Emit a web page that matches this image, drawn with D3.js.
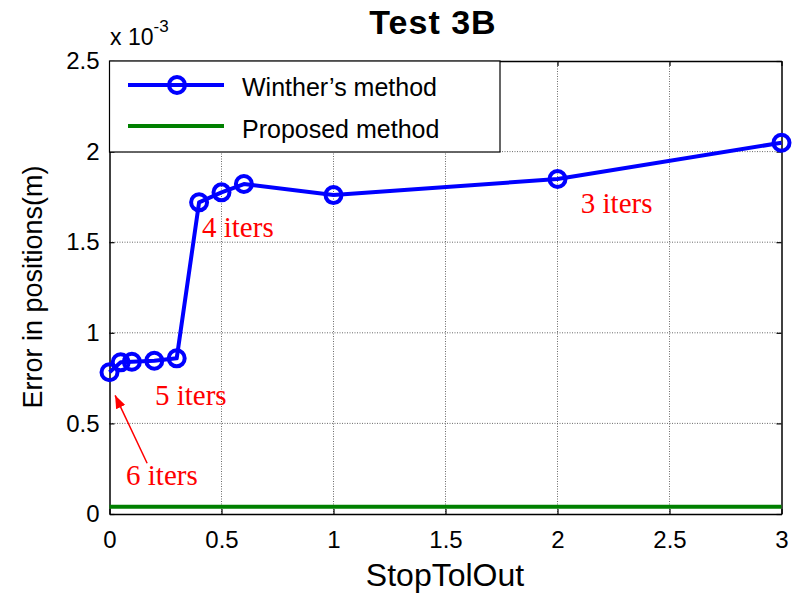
<!DOCTYPE html>
<html>
<head>
<meta charset="utf-8">
<script src="https://cdn.jsdelivr.net/npm/d3@7"></script>
<style>
  html, body { margin: 0; padding: 0; background: #fff; }
  svg { display: block; font-family: "Liberation Sans", Arial, sans-serif; }
</style>
</head>
<body>
<svg id="chart" width="798" height="593"></svg>
<script>
// StopTolOut values and position errors (x 10^-3 m)
const stopTolOut = [0, 0.05, 0.1, 0.2, 0.3, 0.4, 0.5, 0.6, 1, 2, 3];
const wintherError = [0.782, 0.837, 0.84, 0.846, 0.859, 1.72, 1.775, 1.821, 1.76, 1.849, 2.049];
const proposedError = [0.04, 0.04];
const proposedX = [0, 3];
const xTicks = [0, 0.5, 1, 1.5, 2, 2.5, 3];
const yTicks = [0, 0.5, 1, 1.5, 2, 2.5];
const iterNotes = [
  { text: "6 iters", x: 0.074, y: 0.16 },
  { text: "5 iters", x: 0.203, y: 0.60 },
  { text: "4 iters", x: 0.413, y: 1.529 },
  { text: "3 iters", x: 2.104, y: 1.663 }
];

(function () {
const svg = d3.select("#chart");
const left = 109.5, right = 781.5, plotTop = 61, bottom = 514;

const x = d3.scaleLinear().domain([0, 3]).range([left, right]);
const y = d3.scaleLinear().domain([0, 2.5]).range([bottom, plotTop]);

// Dotted grid
const grid = svg.append("g");
grid.selectAll("line.gx").data(xTicks.slice(1, -1)).join("line")
  .attr("x1", d => x(d)).attr("x2", d => x(d)).attr("y1", plotTop).attr("y2", bottom)
  .attr("stroke", "#444").attr("stroke-width", 0.8).attr("stroke-dasharray", "1,1.5");
grid.selectAll("line.gy").data(yTicks.slice(1, -1)).join("line")
  .attr("x1", left).attr("x2", right).attr("y1", d => y(d)).attr("y2", d => y(d))
  .attr("stroke", "#444").attr("stroke-width", 0.8).attr("stroke-dasharray", "1,1.5");

// Axes with inward ticks
const xAxis = d3.axisBottom(x).tickValues(xTicks).tickFormat(d3.format("")).tickSizeInner(-5).tickSizeOuter(0).tickPadding(17);
const yAxis = d3.axisLeft(y).tickValues(yTicks).tickFormat(d3.format("")).tickSizeInner(-5).tickSizeOuter(0).tickPadding(10);
const xTop = d3.axisTop(x).tickValues(xTicks).tickFormat("").tickSizeInner(-5).tickSizeOuter(0);
const yRight = d3.axisRight(y).tickValues(yTicks).tickFormat("").tickSizeInner(-5).tickSizeOuter(0);

function styleAxis(g) {
  g.select(".domain").attr("stroke", "#000").attr("stroke-width", 1.5);
  g.selectAll(".tick line").attr("stroke", "#000").attr("stroke-width", 1.2);
  g.selectAll(".tick text").attr("fill", "#000").attr("font-size", 24)
    .attr("font-family", "Liberation Sans, Arial, sans-serif");
}
svg.append("g").attr("transform", `translate(0,${bottom})`).call(xAxis).call(styleAxis);
svg.append("g").attr("transform", `translate(${left},0)`).call(yAxis).call(styleAxis);
svg.append("g").attr("transform", `translate(0,${plotTop})`).call(xTop).call(styleAxis);
svg.append("g").attr("transform", `translate(${right},0)`).call(yRight).call(styleAxis);

// Proposed method line
svg.append("path")
  .datum(proposedX.map((d, i) => [d, proposedError[i]]))
  .attr("d", d3.line().x(d => x(d[0])).y(d => y(d[1])))
  .attr("fill", "none").attr("stroke", "#008000").attr("stroke-width", 4);

// Winther's method line with circle markers
const wData = stopTolOut.map((d, i) => [d, wintherError[i]]);
svg.append("path").datum(wData)
  .attr("d", d3.line().x(d => x(d[0])).y(d => y(d[1])))
  .attr("fill", "none").attr("stroke", "#0000ff").attr("stroke-width", 4)
  .attr("stroke-linejoin", "round");
svg.selectAll("circle.m").data(wData).join("circle")
  .attr("cx", d => x(d[0])).attr("cy", d => y(d[1])).attr("r", 8)
  .attr("fill", "none").attr("stroke", "#0000ff").attr("stroke-width", 4);

// Iteration annotations
svg.selectAll("text.note").data(iterNotes).join("text")
  .attr("x", d => x(d.x)).attr("y", d => y(d.y))
  .attr("fill", "#ff0000").attr("font-size", 29)
  .attr("font-family", "Liberation Serif, Times New Roman, serif")
  .text(d => d.text);

// Arrow from "6 iters" to the first point
const arrowFrom = [0.168, 0.28], arrowTo = [0.025, 0.655];
svg.append("defs").append("marker")
  .attr("id", "head").attr("viewBox", "0 0 13 10").attr("refX", 13).attr("refY", 5)
  .attr("markerWidth", 13).attr("markerHeight", 10).attr("markerUnits", "userSpaceOnUse")
  .attr("orient", "auto")
  .append("path").attr("d", "M0,0 L13,5 L0,10 Z").attr("fill", "#ff0000");
svg.append("line")
  .attr("x1", x(arrowFrom[0])).attr("y1", y(arrowFrom[1]))
  .attr("x2", x(arrowTo[0])).attr("y2", y(arrowTo[1]))
  .attr("stroke", "#ff0000").attr("stroke-width", 1.5)
  .attr("marker-end", "url(#head)");

// Legend
const lg = svg.append("g");
lg.append("rect").attr("x", left).attr("y", plotTop).attr("width", 390.5).attr("height", 91)
  .attr("fill", "#fff").attr("stroke", "#000").attr("stroke-width", 1.2);
lg.append("line").attr("x1", 128).attr("x2", 224).attr("y1", 85).attr("y2", 85)
  .attr("stroke", "#0000ff").attr("stroke-width", 4);
lg.append("circle").attr("cx", 177).attr("cy", 85).attr("r", 8)
  .attr("fill", "none").attr("stroke", "#0000ff").attr("stroke-width", 4);
lg.append("line").attr("x1", 128).attr("x2", 224).attr("y1", 126).attr("y2", 126)
  .attr("stroke", "#008000").attr("stroke-width", 4);
lg.append("text").attr("x", 242).attr("y", 96).attr("font-size", 25).text("Winther\u2019s method");
lg.append("text").attr("x", 242).attr("y", 138).attr("font-size", 25).text("Proposed method");

// Exponent label
const ex = svg.append("text").attr("x", 110).attr("y", 45).attr("font-size", 23);
ex.append("tspan").text("x 10");
ex.append("tspan").attr("font-size", 17).attr("dy", -13).text("-3");

// Title and axis labels
svg.append("text").attr("x", 433).attr("y", 34).attr("text-anchor", "middle")
  .attr("font-size", 34).attr("font-weight", "bold").attr("letter-spacing", 1).text("Test 3B");
svg.append("text").attr("x", 445).attr("y", 586).attr("text-anchor", "middle")
  .attr("font-size", 32).text("StopTolOut");
svg.append("text").attr("transform", "translate(42,287) rotate(-90)").attr("text-anchor", "middle")
  .attr("font-size", 27).text("Error in positions(m)");
})();
</script>
</body>
</html>
